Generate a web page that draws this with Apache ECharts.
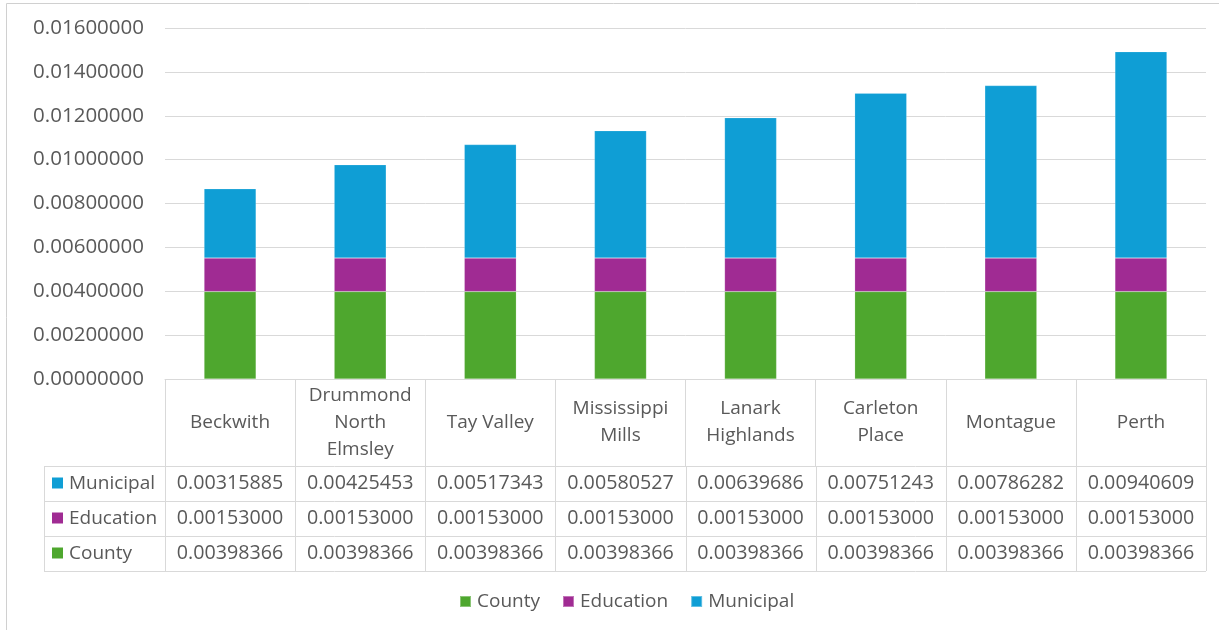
<!DOCTYPE html>
<html>
<head>
<meta charset="utf-8">
<script src="https://cdn.jsdelivr.net/npm/echarts@6/dist/echarts.min.js"></script>
<style>
  html, body { margin: 0; padding: 0; background: #ffffff; }
  #chart { width: 1219px; height: 630px; }
</style>
</head>
<body>
<div id="chart"></div>
<script>
// Property tax rate components by municipality
const categories = ['Beckwith', 'Drummond\nNorth\nElmsley', 'Tay Valley', 'Mississippi\nMills',
  'Lanark\nHighlands', 'Carleton\nPlace', 'Montague', 'Perth'];
const county = [0.00398366, 0.00398366, 0.00398366, 0.00398366, 0.00398366, 0.00398366, 0.00398366, 0.00398366];
const education = [0.00153, 0.00153, 0.00153, 0.00153, 0.00153, 0.00153, 0.00153, 0.00153];
const municipal = [0.00315885, 0.00425453, 0.00517343, 0.00580527, 0.00639686, 0.00751243, 0.00786282, 0.00940609];
const yTicks = { min: 0, max: 0.016, step: 0.002 };

const COLORS = { County: '#4EA72E', Education: '#A02B93', Municipal: '#0F9ED5' };
const TEXT = '#595959';
const LINE = '#d9d9d9';
const FONT = '"Open Sans", "Noto Sans", sans-serif';
const FS = 19;

const G = { left: 165, right: 13, top: 28, bottom: 251 };
const HEADER_H = 87;
const ROW_H = 35;
const TABLE_LEFT = 44;

const chart = echarts.init(document.getElementById('chart'), null, { renderer: 'canvas' });

function barSeries(name, data) {
  return {
    name, type: 'bar', stack: 'total', data, barWidth: 52,
    itemStyle: { color: COLORS[name], borderColor: 'rgba(255,255,255,0.35)', borderWidth: 0.5 },
    emphasis: { disabled: true }
  };
}

chart.setOption({
  animation: false,
  textStyle: { fontFamily: FONT },
  grid: { left: G.left, right: G.right, top: G.top, bottom: G.bottom, containLabel: false },
  legend: {
    data: ['County', 'Education', 'Municipal'],
    left: 454, top: 587,
    itemWidth: 11, itemHeight: 11, itemGap: 22,
    icon: 'rect',
    textStyle: { fontSize: FS, color: TEXT, fontFamily: FONT, padding: [0, 0, 0, 1] }
  },
  xAxis: {
    type: 'category', data: categories,
    axisLine: { show: true, lineStyle: { color: LINE, width: 1 } },
    axisTick: { show: true, length: HEADER_H, alignWithLabel: false, lineStyle: { color: LINE, width: 1 } },
    axisLabel: {
      interval: 0, margin: HEADER_H / 2, verticalAlign: 'middle',
      fontSize: FS, lineHeight: 27, color: TEXT, fontFamily: FONT, align: 'center'
    },
    splitLine: { show: false }
  },
  yAxis: {
    type: 'value', min: yTicks.min, max: yTicks.max, interval: yTicks.step,
    axisLine: { show: false }, axisTick: { show: false },
    axisLabel: { fontSize: 20.5, color: TEXT, fontFamily: FONT, margin: 21, formatter: v => v.toFixed(8) },
    splitLine: { lineStyle: { color: LINE, width: 1 } }
  },
  series: [barSeries('County', county), barSeries('Education', education), barSeries('Municipal', municipal)]
});

// Data table below the category header
const gridRect = chart.getModel().getComponent('grid', 0).coordinateSystem.getRect();
const axisY = gridRect.y + gridRect.height;
const tableTop = axisY + HEADER_H;
const right = gridRect.x + gridRect.width;
const colW = gridRect.width / categories.length;

const rows = [
  { name: 'Municipal', values: municipal },
  { name: 'Education', values: education },
  { name: 'County', values: county }
];

const g = [];
// outer chart frame
g.push({ type: 'rect', shape: { x: 6.5, y: 3.5, width: 1400, height: 800 }, style: { fill: null, stroke: '#d0d0d0', lineWidth: 1 }, silent: true });

const yEnd = tableTop + ROW_H * rows.length;
for (let r = 0; r <= rows.length; r++) {
  const y = Math.round(tableTop + r * ROW_H) + 0.5;
  g.push({ type: 'line', shape: { x1: TABLE_LEFT, y1: y, x2: right, y2: y }, style: { stroke: LINE, lineWidth: 1 }, silent: true });
}
const vx = [TABLE_LEFT];
for (let c = 0; c <= categories.length; c++) vx.push(gridRect.x + c * colW);
vx.forEach(x => {
  const xx = Math.round(x) + 0.5;
  g.push({ type: 'line', shape: { x1: xx, y1: tableTop, x2: xx, y2: yEnd }, style: { stroke: LINE, lineWidth: 1 }, silent: true });
});

rows.forEach((row, r) => {
  const cy = tableTop + r * ROW_H + ROW_H / 2;
  g.push({ type: 'rect', shape: { x: 52, y: cy - 6, width: 11, height: 11 }, style: { fill: COLORS[row.name] }, silent: true });
  g.push({ type: 'text', x: 69, y: cy, style: { text: row.name, fill: TEXT, fontSize: FS, fontFamily: FONT, verticalAlign: 'middle', align: 'left' }, silent: true });
  row.values.forEach((v, c) => {
    const cx = chart.convertToPixel({ xAxisIndex: 0 }, c);
    g.push({ type: 'text', x: cx, y: cy, style: { text: v.toFixed(8), fill: TEXT, fontSize: 19.7, fontFamily: FONT, verticalAlign: 'middle', align: 'center' }, silent: true });
  });
});

chart.setOption({ graphic: { elements: g } });
</script>
</body>
</html>
